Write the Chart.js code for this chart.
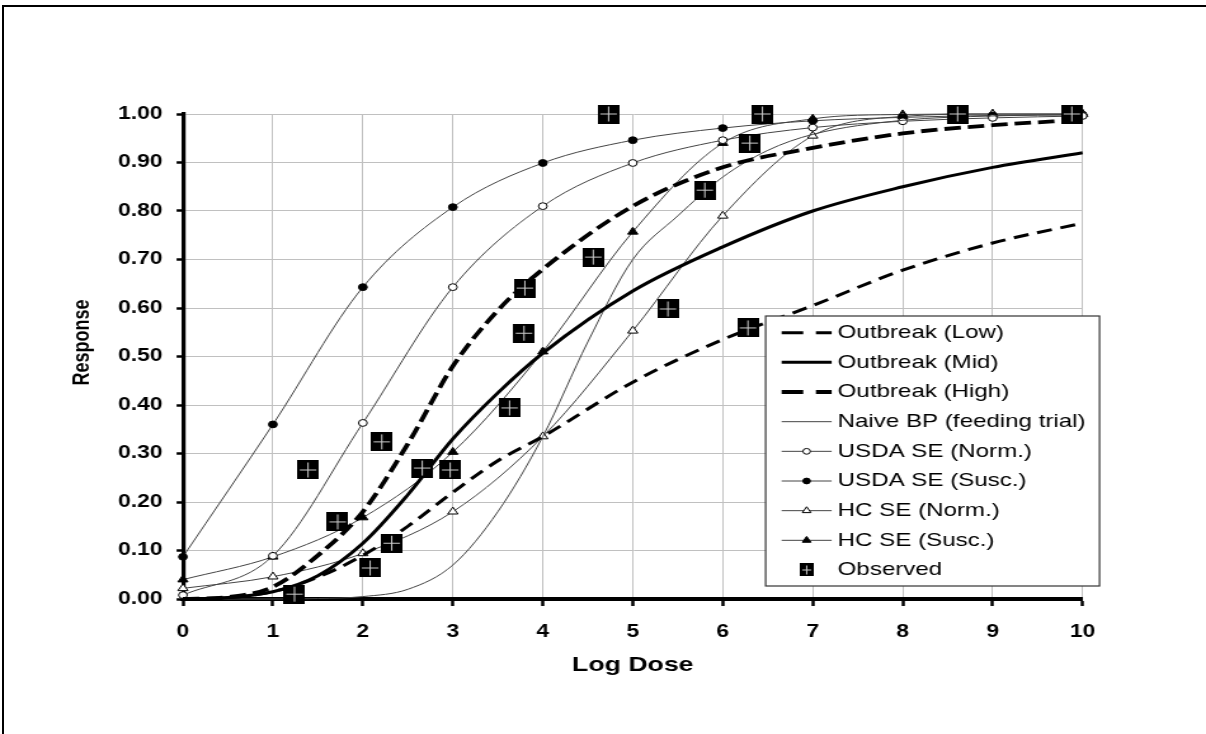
<!DOCTYPE html>
<html lang="en">
<head>
  <meta charset="UTF-8" />
  <title>Dose Response Curves</title>
  <script src="https://cdn.jsdelivr.net/npm/chart.js"></script>
  <style>
    body {
      margin: 0;
      background: #fff;
      width: 1206px;
      height: 734px;
      overflow: hidden;
    }
    /* the original picture is stretched sideways, so the canvas is too */
    .wrap {
      position: absolute;
      left: 0;
      top: 0;
      width: 950px;
      height: 734px;
      transform: scaleX(1.2695);
      transform-origin: 0 0;
    }
    .frame {
      position: absolute;
      left: 2px;
      top: 5px;
      right: 0;
      bottom: 0;
      border-top: 2px solid #000;
      border-left: 2px solid #000;
      pointer-events: none;
    }
  </style>
</head>
<body>
  <div class="wrap"><canvas id="doseChart" width="950" height="734"></canvas></div>
  <div class="frame"></div>

  <script>
    // model curves
    const outbreakDose = [0, 0.5, 1, 1.5, 2, 2.5, 3, 3.5, 4, 5, 6, 7, 8, 9, 10];
    const outbreakLow  = [0, 0.003, 0.015, 0.045, 0.09, 0.15, 0.22, 0.285, 0.335, 0.447, 0.535, 0.605, 0.678, 0.734, 0.775];
    const outbreakMid  = [0, 0.003, 0.015, 0.048, 0.115, 0.215, 0.33, 0.425, 0.507, 0.635, 0.726, 0.80, 0.85, 0.89, 0.92];
    const outbreakHigh = [0, 0.004, 0.025, 0.09, 0.18, 0.32, 0.48, 0.595, 0.68, 0.81, 0.89, 0.93, 0.96, 0.977, 0.988];

    const naiveDose = [0, 1, 1.5, 2, 2.5, 3, 3.5, 4, 4.5, 5, 5.5, 6, 6.5, 7, 8, 9, 10];
    const naiveBP   = [0, 0, 0.001, 0.005, 0.02, 0.07, 0.18, 0.335, 0.53, 0.70, 0.79, 0.87, 0.925, 0.958, 0.987, 0.996, 0.999];

    const markerDose = [0, 1, 2, 3, 4, 5, 6, 7, 8, 9, 10];
    const usdaNorm = [0.008, 0.089, 0.363, 0.643, 0.81, 0.899, 0.946, 0.972, 0.985, 0.992, 0.996];
    const usdaSusc = [0.087, 0.36, 0.643, 0.808, 0.899, 0.946, 0.971, 0.986, 0.993, 0.997, 0.998];
    const hcNorm   = [0.022, 0.046, 0.094, 0.18, 0.335, 0.553, 0.79, 0.955, 0.995, 1.0, 1.0];
    const hcSusc   = [0.04, 0.087, 0.168, 0.303, 0.51, 0.757, 0.94, 0.99, 0.999, 1.0, 1.0];

    // observed outbreak data
    const obsDose = [1.24, 1.39, 1.72, 2.08, 2.21, 2.32, 2.66, 2.97, 3.63, 3.79, 3.80, 4.56, 4.73, 5.39, 5.80, 6.28, 6.30, 6.44, 8.61, 9.88];
    const obsResp = [0.01, 0.266, 0.159, 0.064, 0.324, 0.115, 0.27, 0.266, 0.394, 0.548, 0.641, 0.705, 1.0, 0.598, 0.843, 0.559, 0.94, 1.0, 1.0, 1.0];

    const FONT = 'Arial, "Liberation Sans", sans-serif';
    Chart.defaults.font.family = FONT;
    Chart.defaults.color = '#000';

    const pts = (xs, ys) => xs.map((x, i) => ({ x, y: ys[i] }));

    function squareMarker(w, h) {
      const c = document.createElement('canvas');
      c.width = w;
      c.height = h;
      const g = c.getContext('2d');
      g.fillStyle = '#000';
      g.fillRect(0, 0, w, h);
      g.strokeStyle = '#ccc';
      g.lineWidth = 1;
      g.beginPath();
      g.moveTo(w / 2, 2);
      g.lineTo(w / 2, h - 2);
      g.moveTo(2, h / 2);
      g.lineTo(w - 2, h / 2);
      g.stroke();
      return c;
    }
    const obsMarker = squareMarker(17, 19);
    const obsLegendMarker = squareMarker(11, 13);

    const thin = {
      borderColor: '#444',
      borderWidth: 1,
      cubicInterpolationMode: 'monotone',
      pointBorderColor: '#000',
      pointBorderWidth: 1,
      clip: false
    };

    const datasets = [
      { label: 'Outbreak (Low)', data: pts(outbreakDose, outbreakLow), borderColor: '#000', borderWidth: 3,
        borderDash: [12, 7], pointRadius: 0, cubicInterpolationMode: 'monotone', clip: false },
      { label: 'Outbreak (Mid)', data: pts(outbreakDose, outbreakMid), borderColor: '#000', borderWidth: 3,
        pointRadius: 0, cubicInterpolationMode: 'monotone', clip: false },
      { label: 'Outbreak (High)', data: pts(outbreakDose, outbreakHigh), borderColor: '#000', borderWidth: 3.8,
        borderDash: [13, 5.5], pointRadius: 0, cubicInterpolationMode: 'monotone', clip: false },
      { ...thin, label: 'Naive BP (feeding trial)', data: pts(naiveDose, naiveBP), pointRadius: 0 },
      { ...thin, label: 'USDA SE (Norm.)', data: pts(markerDose, usdaNorm), pointStyle: 'circle',
        pointRadius: 3.4, pointBackgroundColor: '#fff' },
      { ...thin, label: 'USDA SE (Susc.)', data: pts(markerDose, usdaSusc), pointStyle: 'circle',
        pointRadius: 3.4, pointBackgroundColor: '#000' },
      { ...thin, label: 'HC SE (Norm.)', data: pts(markerDose, hcNorm), pointStyle: 'triangle',
        pointRadius: 4.6, pointBackgroundColor: '#fff' },
      { ...thin, label: 'HC SE (Susc.)', data: pts(markerDose, hcSusc), pointStyle: 'triangle',
        pointRadius: 4.6, pointBackgroundColor: '#000' },
      { label: 'Observed', data: pts(obsDose, obsResp), showLine: false, pointStyle: obsMarker,
        pointRadius: 9, order: -1, clip: false }
    ];

    // y title sits a little above the middle in the original, so draw it here
    const yTitle = {
      id: 'yTitle',
      afterDraw(chart) {
        const { ctx, chartArea } = chart;
        ctx.save();
        ctx.translate(65.4, chartArea.top + 228.5);
        ctx.rotate(-Math.PI / 2);
        ctx.font = 'bold 18px ' + FONT;
        ctx.fillStyle = '#000';
        ctx.textAlign = 'center';
        ctx.textBaseline = 'middle';
        ctx.fillText('Response', 0, 0);
        ctx.restore();
      }
    };

    // legend box drawn inside the plot, lower right
    const legendBox = {
      id: 'legendBox',
      afterDraw(chart) {
        const { ctx, chartArea } = chart;
        const left = chartArea.left + 459;
        const top = chartArea.top + 202;
        const w = 263, h = 270;
        ctx.save();
        ctx.fillStyle = '#fff';
        ctx.fillRect(left, top, w, h);
        ctx.strokeStyle = '#333';
        ctx.lineWidth = 1.2;
        ctx.strokeRect(left, top, w, h);

        chart.data.datasets.forEach((ds, i) => {
          const y = top + 16.7 + i * 29.66;
          const x1 = left + 12.6, x2 = left + 52, xm = (x1 + x2) / 2;
          if (ds.showLine !== false) {
            ctx.beginPath();
            ctx.setLineDash(ds.borderDash ? [17, 10] : []);
            ctx.lineWidth = ds.borderWidth;
            ctx.strokeStyle = ds.borderColor;
            ctx.moveTo(x1, y);
            ctx.lineTo(x2, y);
            ctx.stroke();
            ctx.setLineDash([]);
          }
          if (ds.pointStyle instanceof HTMLCanvasElement) {
            ctx.drawImage(obsLegendMarker, xm - obsLegendMarker.width / 2, y - obsLegendMarker.height / 2);
          } else if (ds.pointRadius > 0) {
            ctx.fillStyle = ds.pointBackgroundColor;
            ctx.strokeStyle = ds.pointBorderColor;
            ctx.lineWidth = ds.pointBorderWidth;
            Chart.helpers.drawPoint(ctx, {
              pointStyle: ds.pointStyle, radius: ds.pointRadius * 0.85,
              borderWidth: ds.pointBorderWidth, rotation: 0
            }, xm, y);
          }
          ctx.fillStyle = '#000';
          ctx.font = '19px ' + FONT;
          ctx.textAlign = 'left';
          ctx.textBaseline = 'middle';
          ctx.fillText(ds.label, left + 56.7, y);
        });
        ctx.restore();
      }
    };

    const ctx = document.getElementById('doseChart').getContext('2d');
    new Chart(ctx, {
      type: 'line',
      data: { datasets },
      options: {
        responsive: false,
        animation: false,
        layout: { padding: { top: 114, right: 97.2, left: 0, bottom: 0 } },
        plugins: {
          legend: { display: false },
          tooltip: { enabled: false }
        },
        scales: {
          x: {
            type: 'linear',
            min: 0,
            max: 10,
            afterFit: s => { s.height = 135; },
            ticks: {
              stepSize: 1,
              padding: 15,
              font: { size: 18, weight: 'bold' }
            },
            grid: { color: '#c0c0c0', lineWidth: 1, tickLength: 7, tickColor: '#000', tickWidth: 2.5 },
            border: { color: '#000', width: 4 },
            title: {
              display: true,
              text: 'Log Dose',
              font: { size: 21, weight: 'bold' },
              padding: { top: 0, bottom: 56 }
            }
          },
          y: {
            min: 0,
            max: 1,
            afterFit: s => { s.width = 144.1; },
            ticks: {
              stepSize: 0.1,
              padding: 11,
              font: { size: 18, weight: 'bold' },
              callback: v => v.toFixed(2)
            },
            grid: { color: '#c0c0c0', lineWidth: 1, tickLength: 5, tickColor: '#000', tickWidth: 2.5 },
            border: { color: '#000', width: 3.2 }
          }
        }
      },
      plugins: [legendBox, yTitle]
    });
  </script>
</body>
</html>
